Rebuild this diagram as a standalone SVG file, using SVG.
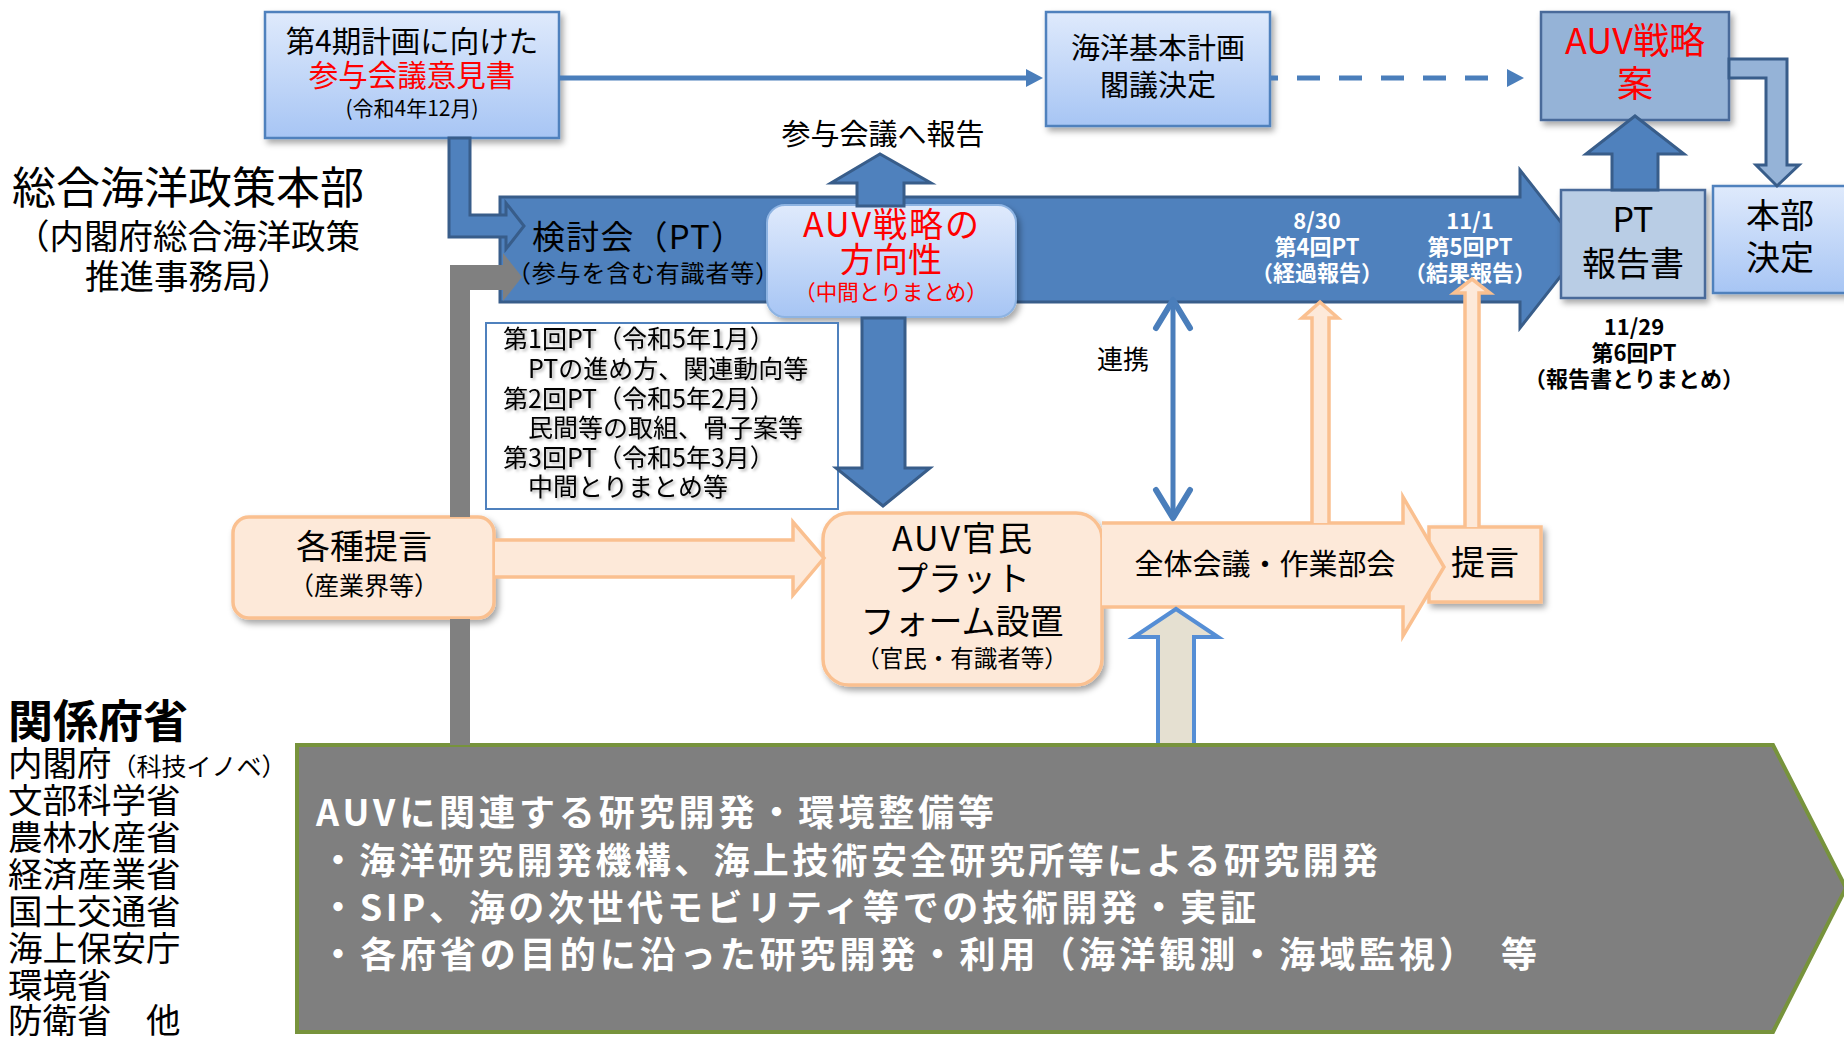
<svg xmlns="http://www.w3.org/2000/svg" width="1844" height="1043" viewBox="0 0 1844 1043">
<defs>
<style>
text{font-family:'Noto Sans CJK JP','Noto Sans',sans-serif;fill:#000;}
.c{text-anchor:middle;}
.red{fill:#ff0000;}
.wb{fill:#fff;font-weight:bold;}
.b{font-weight:bold;}
.lb{fill:url(#gBlue);stroke:#4f81bd;stroke-width:2.5;}
.mid{fill:#95b3d7;stroke:#4a6a9a;stroke-width:2.5;}
.pale{fill:#b9cde5;stroke:#4a6a9a;stroke-width:2.5;}
.org{fill:#fde9d9;stroke:#fac090;stroke-width:3.5;}
.blu{fill:#4f81bd;stroke:#385d8a;stroke-width:3;}
.line{stroke:#4a7ebb;stroke-width:5;fill:none;}
</style>
<linearGradient id="gBlue" x1="0" y1="0" x2="0" y2="1">
<stop offset="0" stop-color="#dfeafc"/>
<stop offset="1" stop-color="#a7c5f4"/>
</linearGradient>
<filter id="sh" x="-10%" y="-10%" width="130%" height="140%">
<feDropShadow dx="3" dy="4" stdDeviation="3" flood-color="#000" flood-opacity="0.35"/>
</filter>
<filter id="tsh" x="-5%" y="-20%" width="110%" height="150%">
<feDropShadow dx="2" dy="2" stdDeviation="1.5" flood-color="#000" flood-opacity="0.3"/>
</filter>
<marker id="tri" markerUnits="userSpaceOnUse" markerWidth="18" markerHeight="20" refX="2" refY="9" orient="auto">
<path d="M0,0 L17,9 L0,18 Z" fill="#4a7ebb"/>
</marker>
</defs>

<rect width="1844" height="1043" fill="#fff"/>

<!-- labels on the left -->
<g id="honbu-label">
<text x="12" y="204" font-size="44">総合海洋政策本部</text>
<text x="15" y="249" font-size="34.5">（内閣府総合海洋政策</text>
<text x="85" y="289" font-size="34.5">推進事務局）</text>
</g>

<g id="ministries">
<text x="8" y="738" font-size="45" class="b">関係府省</text>
<text x="8" y="776" font-size="34.5">内閣府<tspan font-size="25">（科技イノベ）</tspan></text>
<text x="8" y="813" font-size="34.5">文部科学省</text>
<text x="8" y="850" font-size="34.5">農林水産省</text>
<text x="8" y="887" font-size="34.5">経済産業省</text>
<text x="8" y="924" font-size="34.5">国土交通省</text>
<text x="8" y="961" font-size="34.5">海上保安庁</text>
<text x="8" y="998" font-size="34.5">環境省</text>
<text x="8" y="1033" font-size="34.5">防衛省　他</text>
</g>

<!-- nodes -->
<g id="pt">
<path class="blu" d="M500,197 H1520 V170 L1582,249 L1520,328 V302 H500 Z"/>
<text x="532" y="249" font-size="33" textLength="212">検討会（PT）</text>
<text x="507" y="282" font-size="24" textLength="272">（参与を含む有識者等）</text>
<text class="c wb" x="1317" y="229" font-size="22">8/30</text>
<text class="c wb" x="1317" y="255" font-size="22">第4回PT</text>
<text class="c wb" x="1317" y="281" font-size="22">（経過報告）</text>
<text class="c wb" x="1470" y="229" font-size="22">11/1</text>
<text class="c wb" x="1470" y="255" font-size="22">第5回PT</text>
<text class="c wb" x="1470" y="281" font-size="22">（結果報告）</text>
</g>

<g id="opinion">
<rect class="lb" x="265" y="12" width="294" height="126" filter="url(#sh)"/>
<text class="c" x="412" y="52" font-size="29.5">第4期計画に向けた</text>
<text class="c red" x="412" y="86" font-size="29.5">参与会議意見書</text>
<text class="c" x="412" y="116" font-size="21">(令和4年12月)</text>
</g>

<g id="basic-plan">
<rect class="lb" x="1046" y="12" width="224" height="114" filter="url(#sh)"/>
<text class="c" x="1158" y="59" font-size="29">海洋基本計画</text>
<text class="c" x="1158" y="96" font-size="29">閣議決定</text>
</g>

<g id="auv-plan">
<rect class="mid" x="1541" y="12" width="188" height="108" filter="url(#sh)"/>
<text class="c red" x="1635" y="54" font-size="36">AUV戦略</text>
<text class="c red" x="1635" y="97" font-size="36">案</text>
</g>

<g id="pt-report">
<rect class="pale" x="1561" y="190" width="144" height="108" filter="url(#sh)"/>
<text class="c" x="1633" y="232" font-size="34">PT</text>
<text class="c" x="1633" y="276" font-size="34">報告書</text>
<text class="c b" x="1634" y="335" font-size="22">11/29</text>
<text class="c b" x="1634" y="361" font-size="22">第6回PT</text>
<text class="c b" x="1634" y="387" font-size="22">（報告書とりまとめ）</text>
</g>

<g id="hq-decision">
<rect class="lb" x="1713" y="186" width="140" height="107" filter="url(#sh)"/>
<text class="c" x="1780" y="228" font-size="34">本部</text>
<text class="c" x="1780" y="270" font-size="34">決定</text>
</g>

<g id="direction">
<rect x="767" y="205" width="249" height="112" rx="18" fill="url(#gBlue)" stroke="#8db3e2" stroke-width="2" filter="url(#sh)"/>
<text class="c red" x="891" y="237" font-size="34" textLength="176">AUV戦略の</text>
<text class="c red" x="891" y="272" font-size="34">方向性</text>
<text class="c red" x="891" y="300" font-size="21.5">（中間とりまとめ）</text>
</g>

<g id="pt-notes">
<rect x="486" y="323" width="352" height="186" fill="#fff" stroke="#4f81bd" stroke-width="2"/>
<g filter="url(#tsh)">
<text x="503" y="348" font-size="25">第1回PT（令和5年1月）</text>
<text x="503" y="378" font-size="25">　PTの進め方、関連動向等</text>
<text x="503" y="408" font-size="25">第2回PT（令和5年2月）</text>
<text x="503" y="437" font-size="25">　民間等の取組、骨子案等</text>
<text x="503" y="467" font-size="25">第3回PT（令和5年3月）</text>
<text x="503" y="496" font-size="25">　中間とりまとめ等</text>
</g>
</g>

<g id="proposals">
<rect class="org" x="233" y="517" width="261" height="101" rx="16" filter="url(#sh)"/>
<text class="c" x="364" y="559" font-size="34">各種提言</text>
<text class="c" x="364" y="595" font-size="25">（産業界等）</text>
</g>

<g id="platform">
<rect class="org" x="823" y="513" width="279" height="172" rx="26" filter="url(#sh)"/>
<text class="c" x="962" y="551" font-size="34" textLength="140">AUV官民</text>
<text class="c" x="962" y="591" font-size="34">プラット</text>
<text class="c" x="962" y="634" font-size="34">フォーム設置</text>
<text class="c" x="962" y="667" font-size="23.5">（官民・有識者等）</text>
</g>

<g id="teigen">
<rect class="org" x="1429" y="527" width="112" height="75" filter="url(#sh)"/>
<text class="c" x="1485" y="575" font-size="34">提言</text>
</g>

<g id="research">
<path d="M297,745 H1773 L1846,888 L1773,1032 H297 Z" fill="#7f7f7f" stroke="#77933c" stroke-width="4"/>
<text class="wb" x="316" y="826" font-size="36" textLength="678">AUVに関連する研究開発・環境整備等</text>
<text class="wb" x="320" y="874" font-size="36" textLength="1058">・海洋研究開発機構、海上技術安全研究所等による研究開発</text>
<text class="wb" x="320" y="921" font-size="36" textLength="936">・SIP、海の次世代モビリティ等での技術開発・実証</text>
<text class="wb" x="320" y="968" font-size="36" textLength="1217">・各府省の目的に沿った研究開発・利用（海洋観測・海域監視）　等</text>
</g>

<!-- connectors -->
<g id="connectors">
<line class="line" x1="559" y1="78" x2="1028" y2="78" marker-end="url(#tri)"/>
<line class="line" x1="1271" y1="78" x2="1509" y2="78" stroke-width="6" stroke-dasharray="23 19" stroke-dashoffset="16" marker-end="url(#tri)"/>
<path d="M1729,59 H1787 V165 H1799 L1777,186 L1756,165 H1766 V78 H1729 Z" fill="#95b3d7" stroke="#385d8a" stroke-width="3"/>
<path class="blu" d="M1612,190 V154 H1586 L1635,116 L1684,154 H1658 V190 Z"/>
<path class="blu" d="M449,138 H470 V215 H506 V203 L524,226 L506,249 V237 H449 Z"/>
<path d="M450,517 V265 H503 V253 L522,277 L503,301 V290 H470 V517 Z" fill="#808080"/>
<rect x="450" y="619" width="20" height="126" fill="#808080"/>
<path class="blu" d="M857,206 V183 H831 L880,154 L931,183 H904 V206 Z"/>
<text class="c" x="883" y="145" font-size="29">参与会議へ報告</text>
<path class="blu" d="M862,318 H905 V468 H930 L883,506 L836,468 H862 Z"/>
<path class="org" d="M495,540 H793 V522 L824,558 L793,595 V577 H495"/>
<path class="org" d="M1102,523 H1403 V497 L1444,567 L1403,636 V607 H1102"/>
<text class="c" x="1265" y="575" font-size="29">全体会議・作業部会</text>
<path d="M1312,523 V318 H1302 L1320,302 L1338,318 H1329 V523" fill="#fde9d9" stroke="#fac090" stroke-width="3.5"/>
<path d="M1465,527 V293 H1454 L1472,279 L1490,293 H1479 V527" fill="#fde9d9" stroke="#fac090" stroke-width="3.5"/>
<line x1="1173" y1="302" x2="1173" y2="516" stroke="#4a7ebb" stroke-width="5"/>
<polyline points="1156,328 1173,300 1190,328" fill="none" stroke="#4a7ebb" stroke-width="6" stroke-linecap="round" stroke-linejoin="round"/>
<polyline points="1156,490 1173,518 1190,490" fill="none" stroke="#4a7ebb" stroke-width="6" stroke-linecap="round" stroke-linejoin="round"/>
<text x="1097" y="369" font-size="26">連携</text>
<path d="M1158,743 V637 H1134 L1176,609 L1218,637 H1194 V743" fill="#e5e0d1" stroke="#558ed5" stroke-width="4"/>
</g>
</svg>
